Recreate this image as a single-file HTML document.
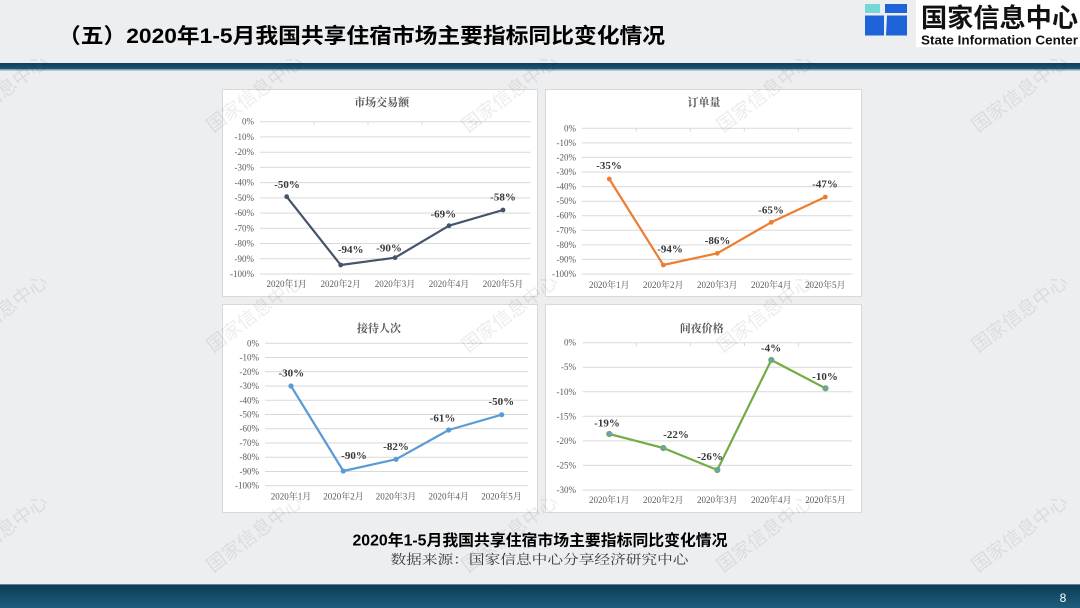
<!DOCTYPE html>
<html><head><meta charset="utf-8"><style>
html,body{margin:0;padding:0;background:#edeef0;}
svg{display:block;}
.t{font-family:"Liberation Serif","Noto Serif CJK SC",serif;font-size:9px;fill:#595959;}
.tt{font-family:"Liberation Serif","Noto Serif CJK SC",serif;font-size:11px;font-weight:bold;fill:#595959;}
.dl{font-family:"Liberation Serif","Noto Serif CJK SC",serif;font-size:11px;font-weight:bold;fill:#383838;text-anchor:middle;}
.g{stroke:#d9d9d9;stroke-width:1;}
.wm{font-family:"Noto Sans CJK SC",sans-serif;font-size:19px;fill:#000;opacity:0.075;}
</style></head><body>
<svg width="1080" height="608" viewBox="0 0 1080 608" xmlns="http://www.w3.org/2000/svg">
<defs>
<linearGradient id="fb" x1="0" y1="0" x2="0" y2="1"><stop offset="0" stop-color="#0d3a55"/><stop offset="1" stop-color="#1d5e7d"/></linearGradient>
<linearGradient id="tb" x1="0" y1="0" x2="0" y2="1"><stop offset="0" stop-color="#0f3d58"/><stop offset="1" stop-color="#1c587a"/></linearGradient>
</defs>
<rect width="1080" height="608" fill="#edeef0"/>
<!-- header -->
<text x="58" y="43" textLength="607" lengthAdjust="spacingAndGlyphs" style="font-family:'Liberation Sans','Noto Sans CJK SC',sans-serif;font-size:21px;font-weight:bold;fill:#000">（五）2020年1-5月我国共享住宿市场主要指标同比变化情况</text>
<rect x="0" y="63" width="1080" height="6" fill="url(#tb)"/>
<rect x="0" y="69" width="1080" height="1.5" fill="#7fa2b6"/>
<!-- logo -->
<rect x="916" y="0" width="164" height="47" fill="#ffffff"/>
<rect x="865" y="4" width="15" height="9" fill="#74d7d8"/>
<rect x="885" y="4" width="22" height="9" fill="#1e64d8"/>
<rect x="865" y="15.5" width="19" height="20" fill="#1e64d8"/>
<polygon points="887,15.5 907,15.5 907,35.5 886,35.5" fill="#1e64d8"/>
<text x="921" y="27" textLength="157" lengthAdjust="spacingAndGlyphs" style="font-family:'Noto Sans CJK SC',sans-serif;font-size:26px;font-weight:bold;fill:#111">国家信息中心</text>
<text x="921" y="44.5" textLength="157" lengthAdjust="spacingAndGlyphs" style="font-family:'Liberation Sans',sans-serif;font-size:13px;font-weight:bold;fill:#111">State Information Center</text>

<!-- chart boxes -->
<rect x="222.5" y="89.5" width="315" height="207" fill="#fff" stroke="#d9d9d9"/>
<rect x="545.5" y="89.5" width="316" height="207" fill="#fff" stroke="#d9d9d9"/>
<rect x="222.5" y="304.5" width="315" height="208" fill="#fff" stroke="#d9d9d9"/>
<rect x="545.5" y="304.5" width="316" height="208" fill="#fff" stroke="#d9d9d9"/>

<!-- Chart 1 -->
<text class="tt" x="381.7" y="106" text-anchor="middle">市场交易额</text>
<g class="g">
<line x1="260" x2="530.5" y1="121.7" y2="121.7"/><line x1="260" x2="530.5" y1="136.9" y2="136.9"/><line x1="260" x2="530.5" y1="152.2" y2="152.2"/><line x1="260" x2="530.5" y1="167.4" y2="167.4"/><line x1="260" x2="530.5" y1="182.6" y2="182.6"/><line x1="260" x2="530.5" y1="197.9" y2="197.9"/><line x1="260" x2="530.5" y1="213.1" y2="213.1"/><line x1="260" x2="530.5" y1="228.3" y2="228.3"/><line x1="260" x2="530.5" y1="243.5" y2="243.5"/><line x1="260" x2="530.5" y1="258.8" y2="258.8"/><line x1="260" x2="530.5" y1="274" y2="274"/>
<line x1="314" x2="314" y1="121.7" y2="125"/><line x1="368" x2="368" y1="121.7" y2="125"/><line x1="422" x2="422" y1="121.7" y2="125"/><line x1="476" x2="476" y1="121.7" y2="125"/>
</g>
<g class="t" text-anchor="end">
<text x="254" y="124.7">0%</text><text x="254" y="139.9">-10%</text><text x="254" y="155.2">-20%</text><text x="254" y="170.4">-30%</text><text x="254" y="185.6">-40%</text><text x="254" y="200.9">-50%</text><text x="254" y="216.1">-60%</text><text x="254" y="231.3">-70%</text><text x="254" y="246.5">-80%</text><text x="254" y="261.8">-90%</text><text x="254" y="277">-100%</text>
</g>
<g class="t" text-anchor="middle">
<text x="286.7" y="287">2020年1月</text><text x="340.7" y="287">2020年2月</text><text x="395" y="287">2020年3月</text><text x="449" y="287">2020年4月</text><text x="503" y="287">2020年5月</text>
</g>
<polyline points="286.7,196.7 340.7,265 395,257.7 449,225.7 503,210" fill="none" stroke="#44546a" stroke-width="2.2" stroke-linejoin="round"/>
<g fill="#44546a"><circle cx="286.7" cy="196.7" r="2.4"/><circle cx="340.7" cy="265" r="2.4"/><circle cx="395" cy="257.7" r="2.4"/><circle cx="449" cy="225.7" r="2.4"/><circle cx="503" cy="210" r="2.4"/></g>
<text class="dl" x="287" y="188">-50%</text><text class="dl" x="350.7" y="253">-94%</text><text class="dl" x="389" y="251.7">-90%</text><text class="dl" x="443.3" y="217.3">-69%</text><text class="dl" x="503" y="200.7">-58%</text>

<!-- Chart 2 -->
<text class="tt" x="704" y="106" text-anchor="middle">订单量</text>
<g class="g">
<line x1="581.7" x2="852.3" y1="128.3" y2="128.3"/><line x1="581.7" x2="852.3" y1="142.9" y2="142.9"/><line x1="581.7" x2="852.3" y1="157.4" y2="157.4"/><line x1="581.7" x2="852.3" y1="172" y2="172"/><line x1="581.7" x2="852.3" y1="186.6" y2="186.6"/><line x1="581.7" x2="852.3" y1="201.2" y2="201.2"/><line x1="581.7" x2="852.3" y1="215.7" y2="215.7"/><line x1="581.7" x2="852.3" y1="230.3" y2="230.3"/><line x1="581.7" x2="852.3" y1="244.9" y2="244.9"/><line x1="581.7" x2="852.3" y1="259.4" y2="259.4"/><line x1="581.7" x2="852.3" y1="274" y2="274"/>
<line x1="636.3" x2="636.3" y1="128.3" y2="131.6"/><line x1="690.3" x2="690.3" y1="128.3" y2="131.6"/><line x1="744.3" x2="744.3" y1="128.3" y2="131.6"/><line x1="798.3" x2="798.3" y1="128.3" y2="131.6"/>
</g>
<g class="t" text-anchor="end">
<text x="576" y="131.3">0%</text><text x="576" y="145.9">-10%</text><text x="576" y="160.4">-20%</text><text x="576" y="175">-30%</text><text x="576" y="189.6">-40%</text><text x="576" y="204.2">-50%</text><text x="576" y="218.7">-60%</text><text x="576" y="233.3">-70%</text><text x="576" y="247.9">-80%</text><text x="576" y="262.4">-90%</text><text x="576" y="277">-100%</text>
</g>
<g class="t" text-anchor="middle">
<text x="609.3" y="288">2020年1月</text><text x="663.3" y="288">2020年2月</text><text x="717.3" y="288">2020年3月</text><text x="771.3" y="288">2020年4月</text><text x="825.3" y="288">2020年5月</text>
</g>
<polyline points="609.3,179 663.3,265 717.3,253.3 771.3,222.3 825.3,197" fill="none" stroke="#ed7d31" stroke-width="2.2" stroke-linejoin="round"/>
<g fill="#ed7d31"><circle cx="609.3" cy="179" r="2.4"/><circle cx="663.3" cy="265" r="2.4"/><circle cx="717.3" cy="253.3" r="2.4"/><circle cx="771.3" cy="222.3" r="2.4"/><circle cx="825.3" cy="197" r="2.4"/></g>
<text class="dl" x="609" y="169">-35%</text><text class="dl" x="670" y="252.3">-94%</text><text class="dl" x="717.5" y="244">-86%</text><text class="dl" x="771" y="213.3">-65%</text><text class="dl" x="825" y="187.3">-47%</text>

<!-- Chart 3 -->
<text class="tt" x="379" y="332" text-anchor="middle">接待人次</text>
<g class="g">
<line x1="265" x2="528.3" y1="343.3" y2="343.3"/><line x1="265" x2="528.3" y1="357.5" y2="357.5"/><line x1="265" x2="528.3" y1="371.8" y2="371.8"/><line x1="265" x2="528.3" y1="386" y2="386"/><line x1="265" x2="528.3" y1="400.3" y2="400.3"/><line x1="265" x2="528.3" y1="414.5" y2="414.5"/><line x1="265" x2="528.3" y1="428.7" y2="428.7"/><line x1="265" x2="528.3" y1="443" y2="443"/><line x1="265" x2="528.3" y1="457.2" y2="457.2"/><line x1="265" x2="528.3" y1="471.5" y2="471.5"/><line x1="265" x2="528.3" y1="485.7" y2="485.7"/>
</g>
<g class="t" text-anchor="end">
<text x="259" y="346.3">0%</text><text x="259" y="360.5">-10%</text><text x="259" y="374.8">-20%</text><text x="259" y="389">-30%</text><text x="259" y="403.3">-40%</text><text x="259" y="417.5">-50%</text><text x="259" y="431.7">-60%</text><text x="259" y="446">-70%</text><text x="259" y="460.2">-80%</text><text x="259" y="474.5">-90%</text><text x="259" y="488.7">-100%</text>
</g>
<g class="t" text-anchor="middle">
<text x="291" y="499.7">2020年1月</text><text x="343.5" y="499.7">2020年2月</text><text x="396" y="499.7">2020年3月</text><text x="448.7" y="499.7">2020年4月</text><text x="501.5" y="499.7">2020年5月</text>
</g>
<polyline points="291,386 343.3,471 396,459.3 448.7,430 501.7,414.7" fill="none" stroke="#5b9bd5" stroke-width="2.2" stroke-linejoin="round"/>
<g fill="#5b9bd5"><circle cx="291" cy="386" r="2.6"/><circle cx="343.3" cy="471" r="2.6"/><circle cx="396" cy="459.3" r="2.6"/><circle cx="448.7" cy="430" r="2.6"/><circle cx="501.7" cy="414.7" r="2.6"/></g>
<text class="dl" x="291.3" y="376.7">-30%</text><text class="dl" x="354" y="459">-90%</text><text class="dl" x="396" y="450">-82%</text><text class="dl" x="442.5" y="421.7">-61%</text><text class="dl" x="501.3" y="405">-50%</text>

<!-- Chart 4 -->
<text class="tt" x="701.7" y="332" text-anchor="middle">间夜价格</text>
<g class="g">
<line x1="582.7" x2="852.3" y1="342.7" y2="342.7"/><line x1="582.7" x2="852.3" y1="367.2" y2="367.2"/><line x1="582.7" x2="852.3" y1="391.8" y2="391.8"/><line x1="582.7" x2="852.3" y1="416.3" y2="416.3"/><line x1="582.7" x2="852.3" y1="440.9" y2="440.9"/><line x1="582.7" x2="852.3" y1="465.4" y2="465.4"/><line x1="582.7" x2="852.3" y1="490" y2="490"/>
<line x1="636.5" x2="636.5" y1="342.7" y2="346"/><line x1="690.5" x2="690.5" y1="342.7" y2="346"/><line x1="744.5" x2="744.5" y1="342.7" y2="346"/><line x1="798.5" x2="798.5" y1="342.7" y2="346"/>
</g>
<g class="t" text-anchor="end">
<text x="576" y="345.7">0%</text><text x="576" y="370.2">-5%</text><text x="576" y="394.8">-10%</text><text x="576" y="419.3">-15%</text><text x="576" y="443.9">-20%</text><text x="576" y="468.4">-25%</text><text x="576" y="493">-30%</text>
</g>
<g class="t" text-anchor="middle">
<text x="609.3" y="503">2020年1月</text><text x="663.3" y="503">2020年2月</text><text x="717.3" y="503">2020年3月</text><text x="771.3" y="503">2020年4月</text><text x="825.5" y="503">2020年5月</text>
</g>
<polyline points="609.3,434 663.3,448 717.3,470 771.3,360 825.5,388.3" fill="none" stroke="#70ad47" stroke-width="2.2" stroke-linejoin="round"/>
<g fill="#6d9ccb" stroke="#70ad47" stroke-width="1"><circle cx="609.3" cy="434" r="2.6"/><circle cx="663.3" cy="448" r="2.6"/><circle cx="717.3" cy="470" r="2.6"/><circle cx="771.3" cy="360" r="2.6"/><circle cx="825.5" cy="388.3" r="2.6"/></g>
<text class="dl" x="607" y="426.7">-19%</text><text class="dl" x="676" y="438">-22%</text><text class="dl" x="710" y="460">-26%</text><text class="dl" x="771" y="351.3">-4%</text><text class="dl" x="825" y="380">-10%</text>

<!-- caption -->
<text x="540" y="545.5" text-anchor="middle" textLength="375" lengthAdjust="spacingAndGlyphs" style="font-family:'Liberation Sans','Noto Sans CJK SC',sans-serif;font-size:15.5px;font-weight:bold;fill:#000">2020年1-5月我国共享住宿市场主要指标同比变化情况</text>
<text x="539.5" y="564" text-anchor="middle" textLength="298" lengthAdjust="spacingAndGlyphs" style="font-family:'Noto Serif CJK SC',serif;font-size:13px;fill:#3a3a3a">数据来源：国家信息中心分享经济研究中心</text>

<!-- footer -->
<rect x="0" y="584" width="1080" height="24" fill="url(#fb)"/>
<rect x="0" y="584" width="1080" height="1" fill="#5f8499"/>
<text x="1063" y="602" text-anchor="middle" style="font-family:'Liberation Sans',sans-serif;font-size:12px;fill:#fff">8</text>

<!-- watermarks -->
<g class="wm">
<text x="-42" y="133" transform="rotate(-37 -42 133)">国家信息中心</text>
<text x="213" y="133" transform="rotate(-37 213 133)">国家信息中心</text>
<text x="468" y="133" transform="rotate(-37 468 133)">国家信息中心</text>
<text x="723" y="133" transform="rotate(-37 723 133)">国家信息中心</text>
<text x="978" y="133" transform="rotate(-37 978 133)">国家信息中心</text>
<text x="-42" y="353" transform="rotate(-37 -42 353)">国家信息中心</text>
<text x="213" y="353" transform="rotate(-37 213 353)">国家信息中心</text>
<text x="468" y="353" transform="rotate(-37 468 353)">国家信息中心</text>
<text x="723" y="353" transform="rotate(-37 723 353)">国家信息中心</text>
<text x="978" y="353" transform="rotate(-37 978 353)">国家信息中心</text>
<text x="-42" y="573" transform="rotate(-37 -42 573)">国家信息中心</text>
<text x="213" y="573" transform="rotate(-37 213 573)">国家信息中心</text>
<text x="468" y="573" transform="rotate(-37 468 573)">国家信息中心</text>
<text x="723" y="573" transform="rotate(-37 723 573)">国家信息中心</text>
<text x="978" y="573" transform="rotate(-37 978 573)">国家信息中心</text>
</g>
</svg>
</body></html>
